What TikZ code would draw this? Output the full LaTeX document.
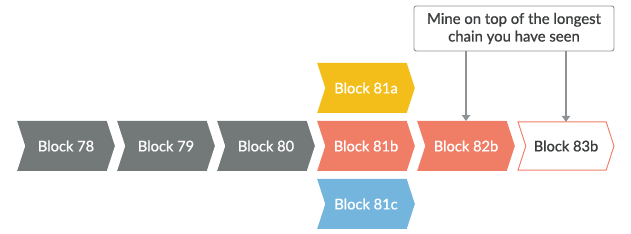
\documentclass[tikz,border=0pt]{standalone}
\usepackage{fontspec}
\setmainfont[FakeBold=0.9]{Lato}
\usetikzlibrary{arrows.meta,positioning,shapes.symbols}
\definecolor{blkgray}{HTML}{737879}
\definecolor{blkyellow}{HTML}{F4BE1A}
\definecolor{blksalmon}{HTML}{F07E66}
\definecolor{blkblue}{HTML}{74B5DE}
\definecolor{txtdark}{HTML}{3A3C3D}
\definecolor{linegray}{HTML}{8E9294}
\begin{document}
\begin{tikzpicture}[x=0.03cm,y=-0.03cm,>={Triangle[length=5pt,width=7pt]},
  block/.style={signal,signal from=west,signal to=east,signal pointer angle=144,
    minimum width=2.93cm,minimum height=1.5cm,inner sep=0pt,outer sep=0pt,
    text=white,font=\fontsize{12.5}{15}\selectfont},
  note/.style={draw=linegray,thick,rounded corners=2pt,fill=white,align=center,
    minimum width=6cm,minimum height=1.35cm,text=txtdark,font=\fontsize{12.7}{15}\selectfont},
  arr/.style={->,linegray,line width=1.3pt}]
\useasboundingbox (0,0) rectangle (631,234);
% main chain
\node[block,fill=blkgray] (b78) at (66,146) {Block 78};
\node[block,fill=blkgray] (b79) at (166,146) {Block 79};
\node[block,fill=blkgray] (b80) at (266,146) {Block 80};
\node[block,fill=blksalmon] (b81b) at (366,146) {Block 81b};
\node[block,fill=blksalmon] (b82b) at (466,146) {Block 82b};
\node[block,fill=white,draw=blksalmon,thick,text=txtdark,minimum width=2.88cm,minimum height=1.45cm] (b83b) at (566,146) {Block 83b};
% forks
\node[block,fill=blkyellow] (b81a) at (366,88) {Block 81a};
\node[block,fill=blkblue] (b81c) at (366,204) {Block 81c};
% callout
\node[note] (rule) at (514,28.5) {Mine on top of the longest\\chain you have seen};
\draw[arr] (rule.south -| b82b) -- (b82b.north);
\draw[arr] (rule.south -| b83b) -- (b83b.north);
\end{tikzpicture}
\end{document}
